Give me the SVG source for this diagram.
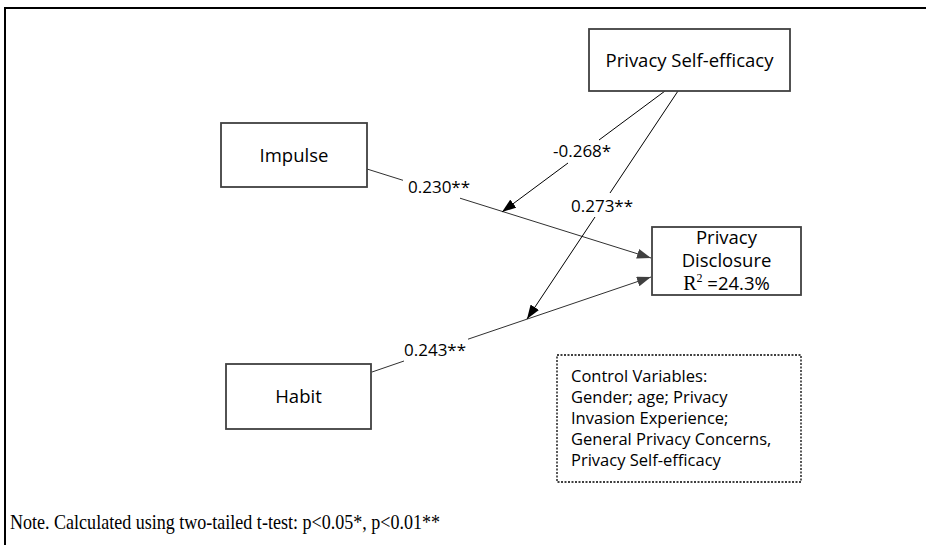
<svg xmlns="http://www.w3.org/2000/svg" width="926" height="545" viewBox="0 0 926 545">
  <defs>
    <marker id="ah" markerUnits="userSpaceOnUse" markerWidth="14" markerHeight="10" refX="14" refY="5" orient="auto">
      <path d="M0,0 L14,5 L0,10 z" fill="#000"/>
    </marker>
    <marker id="ahg" markerUnits="userSpaceOnUse" markerWidth="14" markerHeight="10" refX="14" refY="5" orient="auto">
      <path d="M0,0 L14,5 L0,10 z" fill="#404040"/>
    </marker>
  </defs>
  <style>
    .box { fill: #fff; stroke: #404040; stroke-width: 1.8; }
    .dash { fill: #fff; stroke: #000; stroke-width: 1.3; stroke-dasharray: 2 1.5; }
    .lbl { font-family: "Open Sans", "Liberation Sans", sans-serif; font-size: 18.5px; fill: #000; }
    .coef { font-family: "Open Sans", "Liberation Sans", sans-serif; font-size: 17px; fill: #000; }
    .ctl { font-family: "Open Sans", "Liberation Sans", sans-serif; font-size: 16.5px; fill: #000; }
    .edge { stroke: #000; stroke-width: 1; fill: none; }
    .edgeg { stroke: #303030; stroke-width: 1; fill: none; }
    .note { font-family: "Liberation Serif", "Times New Roman", serif; font-size: 21px; fill: #000; }
  </style>
  <rect width="926" height="545" fill="#fff"/>
  <g id="frame">
    <line x1="5" y1="8" x2="926" y2="8" stroke="#000" stroke-width="2"/>
    <line x1="5" y1="7" x2="5" y2="545" stroke="#000" stroke-width="2"/>
  </g>
  <g id="connectors">
    <line class="edgeg" x1="367" y1="169" x2="403" y2="180.3"/>
    <line class="edgeg" x1="460" y1="198.2" x2="651" y2="258" marker-end="url(#ahg)"/>
    <line class="edgeg" x1="372" y1="372" x2="404" y2="361"/>
    <line class="edgeg" x1="468" y1="339.2" x2="651" y2="277" marker-end="url(#ahg)"/>
    <line class="edge" x1="665" y1="91" x2="599" y2="140"/>
    <line class="edge" x1="568" y1="163" x2="502" y2="212" marker-end="url(#ah)"/>
    <line class="edge" x1="678" y1="91" x2="610" y2="193"/>
    <line class="edge" x1="595" y1="217" x2="527" y2="319" marker-end="url(#ah)"/>
    <text class="coef" x="408" y="193">0.230**</text>
    <text class="coef" x="404" y="356">0.243**</text>
    <text class="coef" x="553" y="157">-0.268*</text>
    <text class="coef" x="571" y="212">0.273**</text>
  </g>
  <g id="self-efficacy">
    <rect class="box" x="589" y="29" width="201" height="62"/>
    <text class="lbl" x="689.5" y="67" text-anchor="middle">Privacy Self-efficacy</text>
  </g>
  <g id="impulse">
    <rect class="box" x="221" y="123" width="146" height="64"/>
    <text class="lbl" x="294" y="162" text-anchor="middle">Impulse</text>
  </g>
  <g id="habit">
    <rect class="box" x="226" y="364" width="145" height="65"/>
    <text class="lbl" x="298.5" y="403" text-anchor="middle">Habit</text>
  </g>
  <g id="disclosure">
    <rect class="box" x="652" y="227" width="149" height="68"/>
    <text class="lbl" x="726.5" y="244" text-anchor="middle">Privacy</text>
    <text class="lbl" x="726.5" y="267" text-anchor="middle">Disclosure</text>
    <text class="lbl" x="726.5" y="290" text-anchor="middle"><tspan font-family="Liberation Serif, serif" font-size="20">R</tspan><tspan font-family="Liberation Serif, serif" font-size="12" dy="-8">2</tspan><tspan dy="8"> =24.3%</tspan></text>
  </g>
  <g id="controls">
    <rect class="dash" x="557" y="355" width="244" height="127"/>
    <text class="ctl" x="571" y="382">Control Variables:</text>
    <text class="ctl" x="571" y="403">Gender; age; Privacy</text>
    <text class="ctl" x="571" y="424">Invasion Experience;</text>
    <text class="ctl" x="571" y="445">General Privacy Concerns,</text>
    <text class="ctl" x="571" y="466">Privacy Self-efficacy</text>
  </g>
  <g id="note">
    <text class="note" x="10" y="529" textLength="430" lengthAdjust="spacingAndGlyphs">Note. Calculated using two-tailed t-test: p&lt;0.05*, p&lt;0.01**</text>
  </g>
</svg>
